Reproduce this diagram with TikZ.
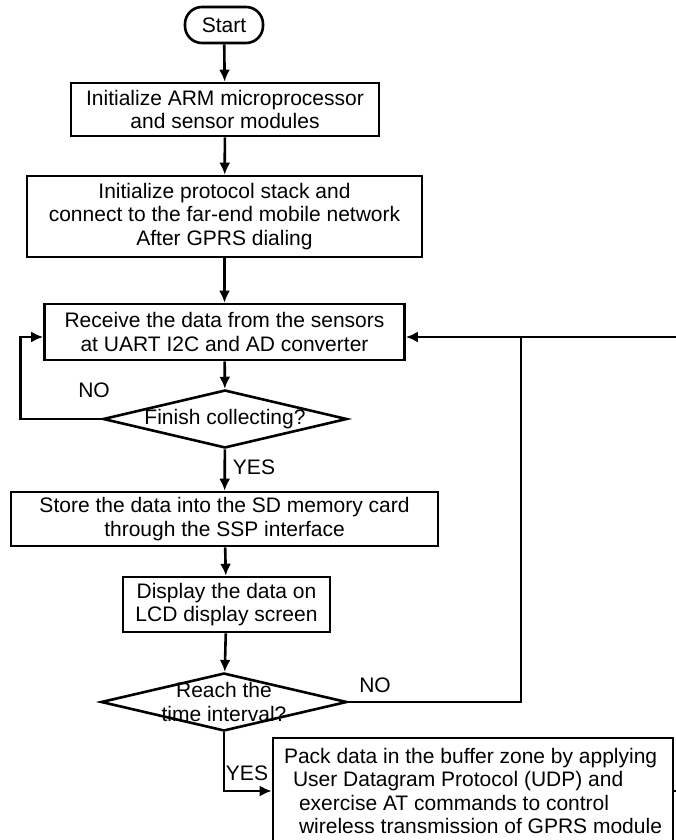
\documentclass[tikz,border=0pt]{standalone}
\usepackage{fontspec}
\setmainfont{Liberation Sans}
\usetikzlibrary{positioning, shapes.geometric, arrows.meta}

\begin{document}
\begin{tikzpicture}[x=1pt, y=-1pt, >={Latex[length=12pt,width=11pt]}, line width=2.6pt]

    % --- Styles ---
    \tikzset{
        basefont/.style={font=\fontsize{21}{23.5}\selectfont},
        flow/.style={->},
        procbox/.style={draw, basefont, align=center, inner sep=0pt},
        termbox/.style={draw, basefont, rounded corners=17pt, minimum width=78pt, minimum height=36pt, inner sep=0pt},
        decision/.style={draw, diamond, inner sep=0pt, minimum width=246pt, minimum height=58pt},
        answer/.style={basefont}
    }

    % --- Cadre ---
    \clip (0,0) rectangle (676,840);

    % --- Initialisation ---
    \node[termbox] (start) at (224,25) {Start};
    \node[procbox, minimum width=308pt, minimum height=53pt] (init) at (225,109.5) {Initialize ARM microprocessor\\and sensor modules};
    \node[procbox, minimum width=395pt, minimum height=81pt] (stack) at (224.5,216.5) {Initialize protocol stack and\\connect to the far-end mobile network\\After GPRS dialing};

    % --- Acquisition ---
    \node[procbox, minimum width=360pt, minimum height=56pt] (recv) at (224.5,332) {Receive the data from the sensors\\at UART I2C and AD converter};
    \node[decision, minimum width=244pt, label={[basefont, align=center]center:Finish collecting?}] (finish) at (225,419) {};

    % --- Stockage et affichage ---
    \node[procbox, minimum width=427pt, minimum height=54pt] (store) at (224.5,519) {Store the data into the SD memory card\\through the SSP interface};
    \node[procbox, minimum width=207pt, minimum height=55pt] (lcd) at (226.5,604.5) {Display the data on\\LCD display screen};
    \node[decision, label={[basefont, align=center]center:Reach the\\time interval?}] (reach) at (224,702) {};

    % --- Transmission ---
    \node[procbox, align=left, minimum width=400pt, minimum height=106pt] (pack) at (473,791) {Pack data in the buffer zone by applying\\
        \hspace*{9pt}User Datagram Protocol (UDP) and\\
        \hspace*{15pt}exercise AT commands to control\\
        \hspace*{15pt}wireless transmission of GPRS module};

    % --- Etiquettes ---
    \node[answer] (no1) at (94,390) {NO};
    \node[answer] (yes1) at (254,467) {YES};
    \node[answer] (no2) at (375,685) {NO};
    \node[answer] (yes2) at (247,773) {YES};

    % --- Points de retour ---
    \coordinate (junc) at (521,337);
    \coordinate (edgeA) at (676,337);
    \coordinate (edgeB) at (676,791);

    % --- Liaisons ---
    \draw[flow] (start) -- (init);
    \draw[flow] (init) -- (stack);
    \draw[flow] (stack) -- (recv);
    \draw[flow] (recv) -- (finish);
    \draw[flow] (finish.west) -- ++(-81,0) |- ([yshift=-5pt]recv.west);
    \draw[flow] (finish) -- (store);
    \draw[flow] (store) -- (lcd);
    \draw[flow] (lcd) -- (reach);
    \draw (reach.east) -| (junc);
    \draw[flow] (edgeA) -- ([yshift=-5pt]recv.east);
    \draw[flow] (reach.south) |- (pack.west);
    \draw (pack.east) -- (edgeB);

\end{tikzpicture}
\end{document}
